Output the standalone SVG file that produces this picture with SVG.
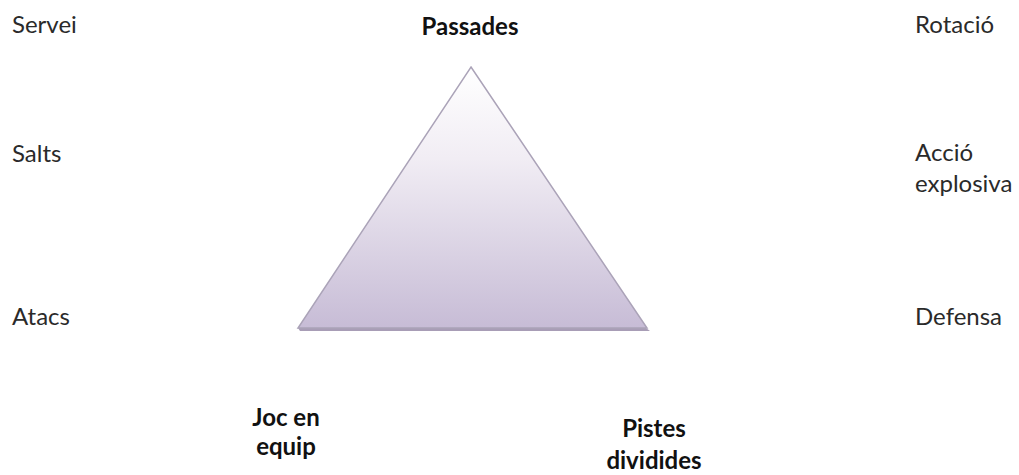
<svg xmlns="http://www.w3.org/2000/svg" width="1019" height="475" viewBox="0 0 1019 475">
<style>
.t{font-family:Lato,"Open Sans",sans-serif;font-size:24px;fill:#2a2a2a}
.b{font-family:Lato,"Open Sans",sans-serif;font-size:24px;font-weight:bold;fill:#111}
</style>
<defs>
<linearGradient id="g" x1="0" y1="0" x2="0" y2="1">
<stop offset="0" stop-color="#ffffff"/>
<stop offset="0.35" stop-color="#f1edf4"/>
<stop offset="1" stop-color="#c7bcd6"/>
</linearGradient>
</defs>
<rect width="1019" height="475" fill="#fff"/>
<g id="triangle">
<polygon points="300,331 650,331 646,328 298,328" fill="#a89db6"/>
<polygon points="471,67 647,328 298,328" fill="url(#g)" stroke="#aba3b8" stroke-width="1.5" stroke-linejoin="miter"/>
</g>
<g id="passades"><text class="b" x="470" y="35" text-anchor="middle">Passades</text></g>
<g id="joc-en-equip"><text class="b" x="286" y="426" text-anchor="middle">Joc en</text><text class="b" x="286" y="455" text-anchor="middle">equip</text></g>
<g id="pistes-dividides"><text class="b" x="654" y="437" text-anchor="middle">Pistes</text><text class="b" x="654" y="469" text-anchor="middle">dividides</text></g>
<g id="servei"><text class="t" x="12" y="33">Servei</text></g>
<g id="salts"><text class="t" x="12" y="162">Salts</text></g>
<g id="atacs"><text class="t" x="12" y="325">Atacs</text></g>
<g id="rotacio"><text class="t" x="915" y="33">Rotació</text></g>
<g id="accio-explosiva"><text class="t" x="915" y="161">Acció</text><text class="t" x="915" y="192">explosiva</text></g>
<g id="defensa"><text class="t" x="915" y="325">Defensa</text></g>
<g id="connectors"/>
</svg>
